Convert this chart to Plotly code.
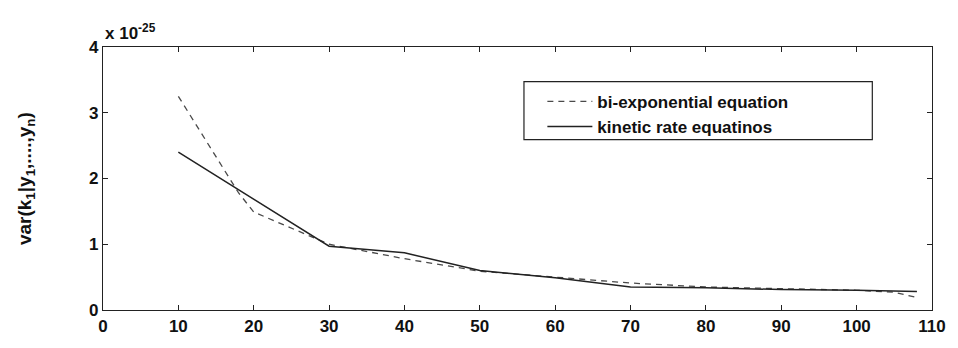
import plotly.graph_objects as go

# Posterior variance of k1 versus number of samples (values in units of 1e-25)
x_biexp = [10, 18, 20, 30, 40, 50, 60, 70, 80, 90, 100, 105, 108]
var_biexp = [3.25, 1.78, 1.49, 1.00, 0.78, 0.59, 0.50, 0.41, 0.35, 0.32, 0.30, 0.27, 0.19]

x_kinetic = [10, 20, 30, 40, 50, 60, 70, 80, 90, 100, 108]
var_kinetic = [2.40, 1.68, 0.97, 0.87, 0.60, 0.49, 0.35, 0.34, 0.31, 0.30, 0.28]

x_ticks = list(range(0, 111, 10))
y_ticks = [0, 1, 2, 3, 4]

FONT = "Arial, Liberation Sans, sans-serif"

fig = go.Figure()
fig.add_trace(go.Scatter(
    x=x_biexp, y=var_biexp, mode="lines",
    name="bi-exponential equation",
    line=dict(color="#4a4a4a", width=1.3, dash="6px,5px"),
))
fig.add_trace(go.Scatter(
    x=x_kinetic, y=var_kinetic, mode="lines",
    name="kinetic rate equatinos",
    line=dict(color="#222222", width=1.5),
))

axis_common = dict(
    showgrid=False, zeroline=False,
    showline=True, linecolor="#222222", linewidth=1.2,
    mirror="ticks", ticks="inside", ticklen=5, tickcolor="#222222",
    tickfont=dict(family=FONT, size=17, color="#111111", weight="bold"),
)

fig.update_xaxes(range=[0, 110], tickvals=x_ticks, **axis_common)
fig.update_yaxes(range=[0, 4], tickvals=y_ticks, **axis_common)

# Legend frame
fig.add_shape(type="rect", xref="paper", yref="paper",
              x0=0.5078, x1=0.928, y0=0.648, y1=0.8686,
              line=dict(color="#222222", width=1.2), fillcolor="white", layer="below")

fig.add_annotation(
    text="x 10<sup>-25</sup>", xref="paper", yref="paper",
    x=0, y=1, xanchor="left", yanchor="bottom", yshift=2, showarrow=False,
    font=dict(family=FONT, size=17, color="#111111", weight="bold"),
)
fig.add_annotation(
    text="var(k<sub>1</sub>|y<sub>1</sub>,....,y<sub>n</sub>)",
    xref="paper", yref="paper", x=-0.0934, y=0.5, xanchor="center", yanchor="middle",
    textangle=-90, showarrow=False,
    font=dict(family=FONT, size=19, color="#111111", weight="bold"),
)

fig.update_layout(
    width=958, height=348,
    margin=dict(l=103, r=20, t=47, b=25),
    paper_bgcolor="white", plot_bgcolor="white",
    showlegend=True,
    legend=dict(
        x=0.53, y=0.86, xanchor="left", yanchor="top",
        bgcolor="rgba(0,0,0,0)", borderwidth=0,
        font=dict(family=FONT, size=17, color="#111111", weight="bold"),
        itemwidth=45,
    ),
)

fig.write_html("out.html")
